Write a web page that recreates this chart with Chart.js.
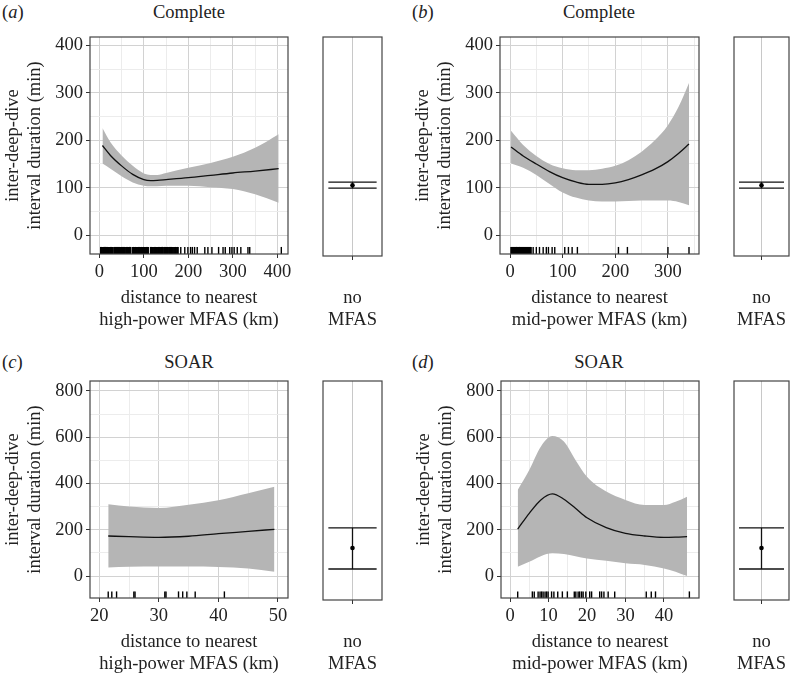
<!DOCTYPE html>
<html>
<head>
<meta charset="utf-8">
<script src="https://cdn.jsdelivr.net/npm/chart.js@4.4.1/dist/chart.umd.min.js"></script>
<style>
  body { margin: 0; background: #fff; width: 793px; height: 675px; position: relative; overflow: hidden;
         font-family: "Liberation Serif", "Times New Roman", serif; color: #222; }
  canvas { position: absolute; }
  .tag { position: absolute; font-size: 18.5px; line-height: 22px; white-space: nowrap; }
  .ttl { position: absolute; font-size: 18.5px; line-height: 22px; white-space: nowrap; transform: translateX(-50%); }
</style>
</head>
<body>
<div class="tag" style="left:2px;top:1px">(<i>a</i>)</div>
<div class="ttl" style="left:189px;top:1px">Complete</div>
<div class="tag" style="left:412px;top:1px">(<i>b</i>)</div>
<div class="ttl" style="left:599px;top:1px">Complete</div>
<div class="tag" style="left:2px;top:351px">(<i>c</i>)</div>
<div class="ttl" style="left:189px;top:351px">SOAR</div>
<div class="tag" style="left:412px;top:351px">(<i>d</i>)</div>
<div class="ttl" style="left:599px;top:351px">SOAR</div>

<canvas id="mainA" width="300" height="331" style="left:0px;top:0px"></canvas>
<canvas id="boxA" width="100" height="331" style="left:300px;top:0px"></canvas>
<canvas id="mainB" width="300" height="331" style="left:410px;top:0px"></canvas>
<canvas id="boxB" width="83" height="331" style="left:710px;top:0px"></canvas>
<canvas id="mainC" width="300" height="331" style="left:0px;top:344px"></canvas>
<canvas id="boxC" width="100" height="331" style="left:300px;top:344px"></canvas>
<canvas id="mainD" width="300" height="331" style="left:411px;top:344px"></canvas>
<canvas id="boxD" width="83" height="331" style="left:710px;top:344px"></canvas>

<script>
// ---- data ----
// (a) complete, high-power MFAS
const xA = [7, 25, 50, 75, 100, 115, 130, 150, 200, 250, 300, 350, 403];
const fitA = [189, 168, 146, 128, 117, 115, 115.5, 117, 121, 126, 131, 135, 140];
const upA = [226, 196, 168, 146, 130, 127, 127, 131, 142, 152, 165, 184, 213];
const loA = [151, 140, 124, 111, 104, 103, 103, 104, 104, 101, 97, 86, 68];
const rugA = [3, 4, 5, 6.5, 8, 9, 10, 11.5, 12, 13.5, 14, 15, 16, 17.5, 18, 19, 20, 21.5, 22, 23.5, 25,
  26, 27, 28, 29, 30.5, 33, 34, 35, 36, 37, 38.5, 40, 41, 42, 43, 44, 45.5, 46, 47, 48, 49.5, 51, 52,
  53, 54, 55, 56.5, 57, 58, 60, 61, 62, 63.5, 64, 65, 66, 67.5, 68, 69, 70, 74, 75, 76, 77, 78, 79.5,
  80, 81, 83, 84, 85, 86.5, 87, 88, 90, 91, 92, 93.5, 94, 95, 96, 97.5, 98, 99, 101, 102, 103, 104.5,
  105, 106, 107, 108.5, 110, 115, 116, 117, 118.5, 119, 120, 121, 122.5, 124, 125, 126, 127.5, 128,
  129, 130, 131.5, 132, 133, 135, 136.5, 138, 139, 140, 141.5, 142, 143, 145, 146.5, 148, 149, 150,
  151.5, 153, 154, 156, 157.5, 159, 160, 162, 163.5, 165, 166, 168, 169.5, 171, 172, 174, 175.5, 177,
  183, 192, 199, 205, 209, 214, 220, 237, 244, 253, 268, 278, 283, 293, 298, 303, 310, 318, 334, 338, 409];

// (b) complete, mid-power MFAS
const xB = [2, 25, 50, 75, 100, 125, 150, 175, 200, 225, 250, 275, 300, 320, 340];
const fitB = [186, 167, 150, 134, 121, 112, 107, 107, 110, 117, 127, 139, 155, 172, 192];
const upB = [220, 190, 167, 150, 141, 137, 137, 140, 146, 158, 176, 200, 232, 270, 321];
const loB = [151, 142, 127, 108, 90, 79, 73, 71, 71, 72, 73, 73, 73, 70, 63];
const rugB = [2, 2.7, 3.4, 4.1, 4.8, 5.5, 6.2, 7, 7.7, 8.4, 9.1, 9.8, 10.5, 11.3, 12, 12.7, 13.4, 14.1,
  14.8, 15.6, 16.3, 17, 17.7, 18.4, 19.1, 19.9, 20.6, 21.3, 22, 22.7, 23.4, 24.2, 24.9, 25.6, 26.3,
  27, 27.7, 28.5, 29.2, 29.9, 30.6, 31.3, 32, 32.8, 33.5, 34.2, 34.9, 35.6, 36.3, 37.1, 38, 39, 40,
  44, 50, 56, 63, 69, 73, 80, 85, 104, 111, 118, 128, 206, 223, 300, 340];

// (c) SOAR, high-power MFAS
const xC = [21.5, 25, 30, 35, 40, 45, 49.4];
const fitC = [173, 170, 167, 172, 183, 193, 202];
const upC = [310, 300, 294, 308, 328, 358, 386];
const loC = [37, 40, 41, 41, 39, 32, 19];
const rugC = [21.5, 22.1, 22.9, 25.8, 26.0, 31.0, 31.2, 33.3, 34.0, 34.7, 36.1, 41.0];

// (d) SOAR, mid-power MFAS
const xD = [2, 5, 8, 11, 14, 17, 20, 25, 30, 35, 40, 43, 46];
const fitD = [203, 271, 329, 355, 332, 293, 252, 209, 184, 173, 167, 168, 170];
const upD = [372, 458, 559, 605, 581, 502, 429, 365, 329, 307, 307, 321, 343];
const loD = [40, 62, 86, 98, 95, 86, 76, 66, 55, 48, 33, 19, 0];
const rugD = [2.0, 5.8, 6.3, 7.3, 7.8, 8.2, 8.6, 9.1, 9.5, 9.9, 10.8, 11.4, 12.4, 13.6, 14.9, 16.7,
  17.1, 17.7, 18.1, 18.6, 19.0, 19.7, 20.7, 21.2, 23.3, 23.8, 24.4, 25.5, 27.2, 35.4, 36.7, 37.8, 46.6];

// "no MFAS" estimate with interval, per panel a-d
const boxEst = [105, 105, 121, 121];
const boxLo = [99, 99, 30, 30];
const boxHi = [112, 112, 208, 208];

// tick values (labelled where they hit the major step)
const xTicksA = [0, 50, 100, 150, 200, 250, 300, 350, 400];
const xTicksB = [0, 50, 100, 150, 200, 250, 300, 350];
const xTicksC = [20, 25, 30, 35, 40, 45, 50];
const xTicksD = [0, 5, 10, 15, 20, 25, 30, 35, 40, 45];
const yTicksTop = [0, 50, 100, 150, 200, 250, 300, 350, 400];
const yTicksBottom = [0, 100, 200, 300, 400, 500, 600, 700, 800];

const yTitle = ['inter-deep-dive', 'interval duration (min)'];
const xTitleHigh = ['distance to nearest', 'high-power MFAS (km)'];
const xTitleMid = ['distance to nearest', 'mid-power MFAS (km)'];
const boxTitle = ['no', 'MFAS'];

// ---- drawing ----
Chart.defaults.font.family = '"Liberation Serif", "Times New Roman", serif';
Chart.defaults.font.size = 18.5;
Chart.defaults.color = '#222';
Chart.defaults.animation = false;

const MAJOR_GRID = '#d2d2d2';
const MINOR_GRID = '#ececec';
const FRAME = '#444';
const BAND = '#b5b5b5';
const CAP_HALF = 0.45;

const framePlugin = {
  id: 'frame',
  afterDraw(chart) {
    const a = chart.chartArea;
    const ctx = chart.ctx;
    ctx.save();
    ctx.strokeStyle = FRAME;
    ctx.lineWidth = 1.2;
    ctx.strokeRect(a.left, a.top, a.right - a.left, a.bottom - a.top);
    ctx.restore();
  }
};

function isMajor(v, step) {
  return Math.abs(v % step) < 1e-9;
}

function gridAxis(min, max, ticks, step, extra) {
  return Object.assign({
    type: 'linear',
    min: min,
    max: max,
    afterBuildTicks: s => { s.ticks = ticks.map(v => ({ value: v })); },
    ticks: {
      autoSkip: false,
      maxRotation: 0,
      callback: v => isMajor(v, step) ? String(v) : ''
    },
    grid: {
      color: c => (c.tick && isMajor(c.tick.value, step)) ? MAJOR_GRID : MINOR_GRID,
      tickColor: c => (c.tick && isMajor(c.tick.value, step)) ? '#333' : 'rgba(0,0,0,0)',
      tickLength: 4,
      lineWidth: 1
    },
    border: { display: false }
  }, extra);
}

function pts(xs, ys) {
  return xs.map((x, i) => ({ x: x, y: ys[i] }));
}

function mainChart(id, p) {
  const rugY = p.rugY;
  new Chart(document.getElementById(id), {
    type: 'line',
    data: {
      datasets: [
        { data: pts(p.x, p.fit), borderColor: '#111', borderWidth: 1.3, pointRadius: 0,
          cubicInterpolationMode: 'monotone', fill: false },
        { data: p.rug.map(x => ({ x: x, y: rugY })), showLine: false, borderWidth: 0,
          pointStyle: 'line', pointRotation: 90, pointRadius: 3.6,
          pointBorderColor: '#000', pointBorderWidth: 1.4 },
        { data: pts(p.x, p.up), borderColor: 'rgba(0,0,0,0)', borderWidth: 0, pointRadius: 0,
          cubicInterpolationMode: 'monotone', fill: '+1', backgroundColor: BAND },
        { data: pts(p.x, p.lo), borderColor: 'rgba(0,0,0,0)', borderWidth: 0, pointRadius: 0,
          cubicInterpolationMode: 'monotone', fill: false }
      ]
    },
    options: {
      responsive: false,
      events: [],
      layout: { padding: { left: 0, right: p.padRight, top: 37, bottom: 0 } },
      plugins: { legend: { display: false }, tooltip: { enabled: false } },
      scales: {
        x: gridAxis(p.xMin, p.xMax, p.xTicks, p.xStep, {
          afterFit: s => { s.height = 77; },
          title: { display: true, text: p.xTitle, padding: { top: 0, bottom: 0 }, font: { lineHeight: 1.2 } }
        }),
        y: gridAxis(p.yMin, p.yMax, p.yTicks, p.yStep, {
          afterFit: s => { s.width = 90; },
          title: { display: true, text: yTitle, padding: { top: 2, bottom: 0 }, font: { lineHeight: 1.2 } }
        })
      }
    },
    plugins: [framePlugin]
  });
}

function boxChart(id, i, yMin, yMax, padLeft, padRight) {
  const line = (a, b) => ({ data: [a, b], borderColor: '#111', borderWidth: 1.3, pointRadius: 0, fill: false });
  new Chart(document.getElementById(id), {
    type: 'line',
    data: {
      datasets: [
        { data: [{ x: 0, y: boxEst[i] }], showLine: false, pointRadius: 2.3,
          pointBackgroundColor: '#000', pointBorderWidth: 0 },
        line({ x: -CAP_HALF, y: boxHi[i] }, { x: CAP_HALF, y: boxHi[i] }),
        line({ x: -CAP_HALF, y: boxLo[i] }, { x: CAP_HALF, y: boxLo[i] }),
        line({ x: 0, y: boxLo[i] }, { x: 0, y: boxHi[i] })
      ]
    },
    options: {
      responsive: false,
      events: [],
      layout: { padding: { left: padLeft, right: padRight, top: 37, bottom: 0 } },
      plugins: { legend: { display: false }, tooltip: { enabled: false } },
      scales: {
        x: {
          type: 'linear', min: -0.55, max: 0.55,
          afterBuildTicks: s => { s.ticks = [{ value: 0 }]; },
          afterFit: s => { s.height = 75; },
          ticks: { autoSkip: false, maxRotation: 0, callback: () => '' },
          grid: { color: '#c8c8c8', tickColor: '#333', tickLength: 4 },
          border: { display: false },
          title: { display: true, text: boxTitle, padding: { top: 0, bottom: 0 }, font: { lineHeight: 1.2 } }
        },
        y: { type: 'linear', display: false, min: yMin, max: yMax }
      }
    },
    plugins: [framePlugin]
  });
}

mainChart('mainA', { x: xA, fit: fitA, up: upA, lo: loA, rug: rugA, rugY: -32.7,
  xMin: -21, xMax: 424, xTicks: xTicksA, xStep: 100, yMin: -40, yMax: 418, yTicks: yTicksTop, yStep: 100,
  xTitle: xTitleHigh, padRight: 12 });
mainChart('mainB', { x: xB, fit: fitB, up: upB, lo: loB, rug: rugB, rugY: -32.7,
  xMin: -19, xMax: 359, xTicks: xTicksB, xStep: 100, yMin: -40, yMax: 418, yTicks: yTicksTop, yStep: 100,
  xTitle: xTitleMid, padRight: 11 });
mainChart('mainC', { x: xC, fit: fitC, up: upC, lo: loC, rug: rugC, rugY: -82,
  xMin: 18.44, xMax: 51.68, xTicks: xTicksC, xStep: 10, yMin: -95, yMax: 843, yTicks: yTicksBottom, yStep: 200,
  xTitle: xTitleHigh, padRight: 12 });
mainChart('mainD', { x: xD, fit: fitD, up: upD, lo: loD, rug: rugD, rugY: -82,
  xMin: -2.34, xMax: 49.1, xTicks: xTicksD, xStep: 10, yMin: -95, yMax: 843, yTicks: yTicksBottom, yStep: 200,
  xTitle: xTitleMid, padRight: 12 });

boxChart('boxA', 0, -44, 418, 23, 18);
boxChart('boxB', 1, -44, 418, 24, 1);
boxChart('boxC', 2, -104, 843, 23, 18);
boxChart('boxD', 3, -104, 843, 24, 1);
</script>
</body>
</html>
